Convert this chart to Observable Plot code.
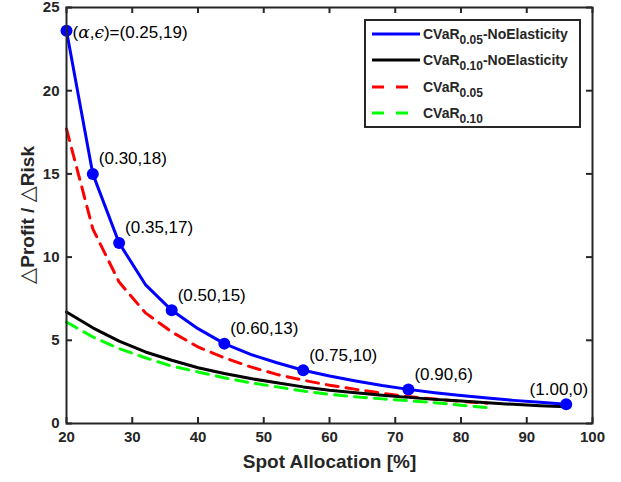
<!DOCTYPE html>
<html>
<head>
<meta charset="utf-8">
<script src="https://cdn.jsdelivr.net/npm/d3@7"></script>
<script src="https://cdn.jsdelivr.net/npm/@observablehq/plot@0.6"></script>
<style>
  body { margin: 0; background: #fff; }
  #wrap { position: relative; width: 621px; height: 482px; font-family: "Liberation Sans", Arial, sans-serif; }
  #legend { position: absolute; left: 364px; top: 19px; width: 213px; height: 105px; border: 2px solid #262626; background: #fff; }
  .row { position: absolute; left: 0; height: 26px; width: 100%; }
  .row svg { position: absolute; left: 5px; top: 0; }
  .row .lab { position: absolute; left: 57px; top: 3px; font-weight: bold; font-size: 14px; color: #262626; white-space: nowrap; }
  .row .lab sub { font-size: 12px; vertical-align: -5px; line-height: 0; }
  #ytitle { position: absolute; left: 27px; top: 215px; transform: translate(-50%, -50%) rotate(-90deg); white-space: nowrap;
            font-weight: bold; font-size: 19px; color: #262626; line-height: 1; }
  #ytitle .tri { font-family: "DejaVu Sans", sans-serif; font-weight: normal; font-size: 21px; }
</style>
</head>
<body>
<div id="wrap"></div>
<script>
// ---- data ----
const xNoElast = [20, 24, 28, 32, 36, 40, 44, 48, 52, 56, 60, 64, 68, 72, 76, 80, 84, 88, 92, 96];
const blueY    = [23.6, 15.0, 10.85, 8.35, 6.8, 5.7, 4.8, 4.15, 3.65, 3.2, 2.85, 2.55, 2.28, 2.05, 1.85, 1.68, 1.53, 1.39, 1.27, 1.15];
const blackY   = [6.7, 5.75, 4.95, 4.3, 3.8, 3.35, 3.0, 2.7, 2.45, 2.2, 2.0, 1.85, 1.7, 1.57, 1.45, 1.35, 1.25, 1.15, 1.07, 1.0];
const xElast   = [20, 24, 28, 32, 36, 40, 44, 48, 52, 56, 60, 64, 68, 72, 76, 80, 84];
const redY     = [17.7, 11.7, 8.5, 6.65, 5.5, 4.6, 3.95, 3.4, 2.95, 2.6, 2.3, 2.05, 1.82, 1.62, 1.47, 1.33, 1.22];
const greenY   = [6.1, 5.2, 4.5, 3.95, 3.45, 3.1, 2.75, 2.45, 2.2, 1.95, 1.75, 1.6, 1.48, 1.37, 1.25, 1.1, 0.95];
const markX    = [20, 24, 28, 36, 44, 56, 72, 96];
const markY    = [23.6, 15.0, 10.85, 6.8, 4.8, 3.2, 2.05, 1.15];
const markLab  = ["(α,ϵ)=(0.25,19)", "(0.30,18)", "(0.35,17)", "(0.50,15)", "(0.60,13)", "(0.75,10)", "(0.90,6)", "(1.00,0)"];
const xTicks   = [20, 30, 40, 50, 60, 70, 80, 90, 100];
const yTicks   = [0, 5, 10, 15, 20, 25];
const xTitle   = "Spot Allocation [%]";
const yTitleParts = ["△", "Profit / ", "△", "Risk"];

const series = (xs, ys) => xs.map((x, i) => ({x, y: ys[i]}));
const blue = series(xNoElast, blueY);
const black = series(xNoElast, blackY);
const red = series(xElast, redY);
const green = series(xElast, greenY);
const marks = markX.map((x, i) => ({x, y: markY[i], label: markLab[i], i}));

const W = 621, H = 482, mL = 66, mR = 29, mT = 7, mB = 59, tickLen = 6;
const frameW = W - mL - mR, frameH = H - mT - mB;
const ax = "#262626";
const tk = {stroke: ax, strokeWidth: 2};

const chart = Plot.plot({
  width: W,
  height: H,
  marginLeft: mL,
  marginRight: mR,
  marginTop: mT,
  marginBottom: mB,
  style: {fontFamily: "Liberation Sans, Arial, sans-serif", background: "#fff", overflow: "visible", color: ax},
  x: {domain: [20, 100]},
  y: {domain: [0, 25]},
  marks: [
    Plot.line(green, {x: "x", y: "y", stroke: "#00ff00", strokeWidth: 3, strokeDasharray: "12,8"}),
    Plot.line(red, {x: "x", y: "y", stroke: "#ff0000", strokeWidth: 3, strokeDasharray: "12,8"}),
    Plot.line(black, {x: "x", y: "y", stroke: "#000000", strokeWidth: 3}),
    Plot.line(blue, {x: "x", y: "y", stroke: "#0000ff", strokeWidth: 3}),
    Plot.dot(marks, {x: "x", y: "y", r: 6, fill: "#0000ff", stroke: "none"}),
    Plot.text(marks.filter(d => d.i === 0), {x: "x", y: "y", text: "label", textAnchor: "start", dx: 6, dy: 2, fontSize: 17, fill: "#000"}),
    Plot.text(marks.filter(d => d.i > 0 && d.i < 7), {x: "x", y: "y", text: "label", textAnchor: "start", dx: 6, dy: -15, fontSize: 17, fill: "#000"}),
    Plot.text(marks.filter(d => d.i === 7), {x: "x", y: "y", text: "label", textAnchor: "end", dx: 22, dy: -15, fontSize: 17, fill: "#000"}),
    // inward ticks on all four sides
    Plot.ruleX(xTicks, {insetTop: frameH - tickLen, ...tk}),
    Plot.ruleX(xTicks, {insetBottom: frameH - tickLen, ...tk}),
    Plot.ruleY(yTicks, {insetRight: frameW - tickLen, ...tk}),
    Plot.ruleY(yTicks, {insetLeft: frameW - tickLen, ...tk}),
    Plot.frame({stroke: ax, strokeWidth: 2}),
    Plot.axisX(xTicks, {anchor: "bottom", tickSize: 0, tickPadding: 8, fontSize: 15, fontWeight: "bold", fill: ax, label: null}),
    Plot.axisY(yTicks, {anchor: "left", tickSize: 0, tickPadding: 7, fontSize: 15, fontWeight: "bold", fill: ax, label: null}),
    Plot.text([xTitle], {frameAnchor: "bottom", dy: 44, fontSize: 19, fontWeight: "bold", fill: ax})
  ]
});

const wrap = document.getElementById("wrap");
wrap.appendChild(chart);

// italic math Greek letters in the first annotation
d3.select(chart).selectAll("text").each(function () {
  const t = this.textContent;
  if (t.startsWith("(α,ϵ)")) {
    const sel = d3.select(this);
    sel.text(null);
    const parts = [["(", false], ["α", true], [",", false], ["ϵ", true], [t.slice(4), false]];
    parts.forEach(([s, it]) => {
      const ts = sel.append("tspan").text(s);
      if (it) ts.attr("font-style", "italic").attr("font-family", "DejaVu Serif, serif");
    });
  }
});

// y axis title (mixed glyph styles)
const yt = document.createElement("div");
yt.id = "ytitle";
yt.innerHTML = yTitleParts.map(p => p === "△" ? `<span class="tri">△</span>` : `<span>${p}</span>`).join("");
wrap.appendChild(yt);

// legend
const legendItems = [
  {color: "#0000ff", dash: null, main: "CVaR", sub: "0.05", tail: "-NoElasticity"},
  {color: "#000000", dash: null, main: "CVaR", sub: "0.10", tail: "-NoElasticity"},
  {color: "#ff0000", dash: "12,12", main: "CVaR", sub: "0.05", tail: ""},
  {color: "#00ff00", dash: "12,12", main: "CVaR", sub: "0.10", tail: ""}
];
const leg = document.createElement("div");
leg.id = "legend";
legendItems.forEach((it, i) => {
  const row = document.createElement("div");
  row.className = "row";
  row.style.top = (2 + i * 26.4) + "px";
  row.innerHTML = `<svg width="50" height="26"><line x1="1" x2="49" y1="11" y2="11" stroke="${it.color}" stroke-width="3" ${it.dash ? `stroke-dasharray="${it.dash}"` : ""}/></svg>` +
    `<span class="lab">${it.main}<sub>${it.sub}</sub>${it.tail}</span>`;
  leg.appendChild(row);
});
wrap.appendChild(leg);
</script>
</body>
</html>
